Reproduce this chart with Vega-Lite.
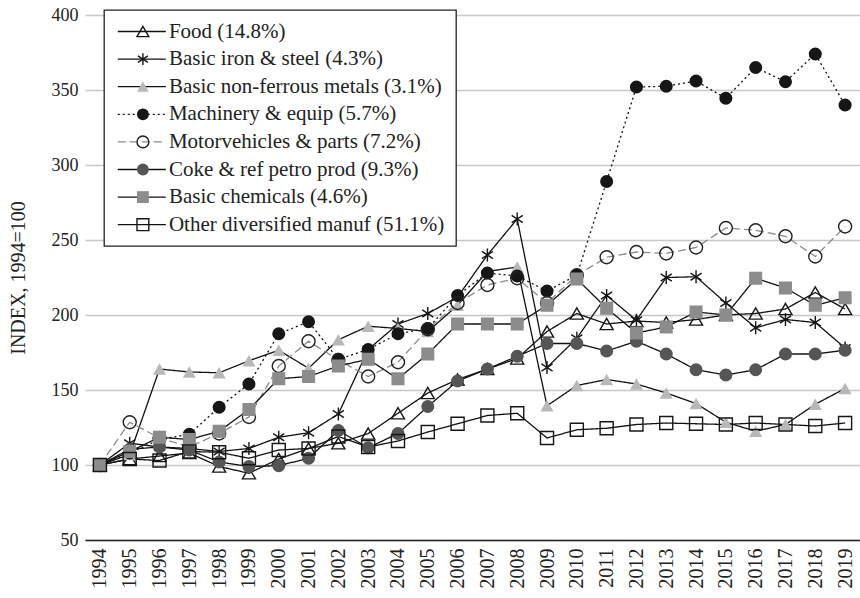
{
  "$schema": "https://vega.github.io/schema/vega-lite/v6.json",
  "width": 775,
  "height": 525,
  "autosize": "none",
  "padding": {"left": 85, "top": 15, "right": 0, "bottom": 58},
  "background": "white",
  "config": {"font": "Liberation Serif", "view": {"stroke": null}},
  "data": {"values": [
    {"series":"Food (14.8%)","year":"1994","value":100},{"series":"Food (14.8%)","year":"1995","value":104},{"series":"Food (14.8%)","year":"1996","value":106},{"series":"Food (14.8%)","year":"1997","value":108},{"series":"Food (14.8%)","year":"1998","value":99},{"series":"Food (14.8%)","year":"1999","value":94.5},{"series":"Food (14.8%)","year":"2000","value":104},{"series":"Food (14.8%)","year":"2001","value":111},{"series":"Food (14.8%)","year":"2002","value":114.5},{"series":"Food (14.8%)","year":"2003","value":121},{"series":"Food (14.8%)","year":"2004","value":134.5},{"series":"Food (14.8%)","year":"2005","value":148},{"series":"Food (14.8%)","year":"2006","value":157},{"series":"Food (14.8%)","year":"2007","value":164},{"series":"Food (14.8%)","year":"2008","value":171},{"series":"Food (14.8%)","year":"2009","value":189},{"series":"Food (14.8%)","year":"2010","value":201},{"series":"Food (14.8%)","year":"2011","value":194},{"series":"Food (14.8%)","year":"2012","value":196},{"series":"Food (14.8%)","year":"2013","value":195},{"series":"Food (14.8%)","year":"2014","value":197},{"series":"Food (14.8%)","year":"2015","value":200},{"series":"Food (14.8%)","year":"2016","value":201},{"series":"Food (14.8%)","year":"2017","value":204},{"series":"Food (14.8%)","year":"2018","value":215},{"series":"Food (14.8%)","year":"2019","value":204},
    {"series":"Basic iron & steel (4.3%)","year":"1994","value":100},{"series":"Basic iron & steel (4.3%)","year":"1995","value":114.5},{"series":"Basic iron & steel (4.3%)","year":"1996","value":112},{"series":"Basic iron & steel (4.3%)","year":"1997","value":111},{"series":"Basic iron & steel (4.3%)","year":"1998","value":109},{"series":"Basic iron & steel (4.3%)","year":"1999","value":111},{"series":"Basic iron & steel (4.3%)","year":"2000","value":118.5},{"series":"Basic iron & steel (4.3%)","year":"2001","value":121.5},{"series":"Basic iron & steel (4.3%)","year":"2002","value":134},{"series":"Basic iron & steel (4.3%)","year":"2003","value":177},{"series":"Basic iron & steel (4.3%)","year":"2004","value":194},{"series":"Basic iron & steel (4.3%)","year":"2005","value":201},{"series":"Basic iron & steel (4.3%)","year":"2006","value":212},{"series":"Basic iron & steel (4.3%)","year":"2007","value":240},{"series":"Basic iron & steel (4.3%)","year":"2008","value":264},{"series":"Basic iron & steel (4.3%)","year":"2009","value":165},{"series":"Basic iron & steel (4.3%)","year":"2010","value":184.5},{"series":"Basic iron & steel (4.3%)","year":"2011","value":213},{"series":"Basic iron & steel (4.3%)","year":"2012","value":196.5},{"series":"Basic iron & steel (4.3%)","year":"2013","value":225},{"series":"Basic iron & steel (4.3%)","year":"2014","value":225.5},{"series":"Basic iron & steel (4.3%)","year":"2015","value":208},{"series":"Basic iron & steel (4.3%)","year":"2016","value":191.5},{"series":"Basic iron & steel (4.3%)","year":"2017","value":197},{"series":"Basic iron & steel (4.3%)","year":"2018","value":195},{"series":"Basic iron & steel (4.3%)","year":"2019","value":178},
    {"series":"Basic non-ferrous metals (3.1%)","year":"1994","value":100},{"series":"Basic non-ferrous metals (3.1%)","year":"1995","value":107},{"series":"Basic non-ferrous metals (3.1%)","year":"1996","value":164},{"series":"Basic non-ferrous metals (3.1%)","year":"1997","value":162},{"series":"Basic non-ferrous metals (3.1%)","year":"1998","value":161.5},{"series":"Basic non-ferrous metals (3.1%)","year":"1999","value":169.5},{"series":"Basic non-ferrous metals (3.1%)","year":"2000","value":176.5},{"series":"Basic non-ferrous metals (3.1%)","year":"2001","value":164.5},{"series":"Basic non-ferrous metals (3.1%)","year":"2002","value":183.5},{"series":"Basic non-ferrous metals (3.1%)","year":"2003","value":192.5},{"series":"Basic non-ferrous metals (3.1%)","year":"2004","value":191},{"series":"Basic non-ferrous metals (3.1%)","year":"2005","value":189},{"series":"Basic non-ferrous metals (3.1%)","year":"2006","value":206.5},{"series":"Basic non-ferrous metals (3.1%)","year":"2007","value":229},{"series":"Basic non-ferrous metals (3.1%)","year":"2008","value":232},{"series":"Basic non-ferrous metals (3.1%)","year":"2009","value":139.5},{"series":"Basic non-ferrous metals (3.1%)","year":"2010","value":153},{"series":"Basic non-ferrous metals (3.1%)","year":"2011","value":157},{"series":"Basic non-ferrous metals (3.1%)","year":"2012","value":154},{"series":"Basic non-ferrous metals (3.1%)","year":"2013","value":148},{"series":"Basic non-ferrous metals (3.1%)","year":"2014","value":141},{"series":"Basic non-ferrous metals (3.1%)","year":"2015","value":128.5},{"series":"Basic non-ferrous metals (3.1%)","year":"2016","value":122.5},{"series":"Basic non-ferrous metals (3.1%)","year":"2017","value":127},{"series":"Basic non-ferrous metals (3.1%)","year":"2018","value":140.5},{"series":"Basic non-ferrous metals (3.1%)","year":"2019","value":151},
    {"series":"Machinery & equip (5.7%)","year":"1994","value":100},{"series":"Machinery & equip (5.7%)","year":"1995","value":108},{"series":"Machinery & equip (5.7%)","year":"1996","value":117},{"series":"Machinery & equip (5.7%)","year":"1997","value":120.5},{"series":"Machinery & equip (5.7%)","year":"1998","value":138.5},{"series":"Machinery & equip (5.7%)","year":"1999","value":154},{"series":"Machinery & equip (5.7%)","year":"2000","value":187.5},{"series":"Machinery & equip (5.7%)","year":"2001","value":195.5},{"series":"Machinery & equip (5.7%)","year":"2002","value":170.5},{"series":"Machinery & equip (5.7%)","year":"2003","value":177},{"series":"Machinery & equip (5.7%)","year":"2004","value":187.5},{"series":"Machinery & equip (5.7%)","year":"2005","value":191},{"series":"Machinery & equip (5.7%)","year":"2006","value":213},{"series":"Machinery & equip (5.7%)","year":"2007","value":228},{"series":"Machinery & equip (5.7%)","year":"2008","value":226},{"series":"Machinery & equip (5.7%)","year":"2009","value":216},{"series":"Machinery & equip (5.7%)","year":"2010","value":226.5},{"series":"Machinery & equip (5.7%)","year":"2011","value":289},{"series":"Machinery & equip (5.7%)","year":"2012","value":352},{"series":"Machinery & equip (5.7%)","year":"2013","value":352.5},{"series":"Machinery & equip (5.7%)","year":"2014","value":356},{"series":"Machinery & equip (5.7%)","year":"2015","value":344.5},{"series":"Machinery & equip (5.7%)","year":"2016","value":365},{"series":"Machinery & equip (5.7%)","year":"2017","value":355.5},{"series":"Machinery & equip (5.7%)","year":"2018","value":374},{"series":"Machinery & equip (5.7%)","year":"2019","value":340},
    {"series":"Motorvehicles & parts (7.2%)","year":"1994","value":100},{"series":"Motorvehicles & parts (7.2%)","year":"1995","value":128.5},{"series":"Motorvehicles & parts (7.2%)","year":"1996","value":118},{"series":"Motorvehicles & parts (7.2%)","year":"1997","value":112},{"series":"Motorvehicles & parts (7.2%)","year":"1998","value":121},{"series":"Motorvehicles & parts (7.2%)","year":"1999","value":132},{"series":"Motorvehicles & parts (7.2%)","year":"2000","value":166},{"series":"Motorvehicles & parts (7.2%)","year":"2001","value":182.5},{"series":"Motorvehicles & parts (7.2%)","year":"2002","value":170},{"series":"Motorvehicles & parts (7.2%)","year":"2003","value":159},{"series":"Motorvehicles & parts (7.2%)","year":"2004","value":168.5},{"series":"Motorvehicles & parts (7.2%)","year":"2005","value":190.5},{"series":"Motorvehicles & parts (7.2%)","year":"2006","value":208},{"series":"Motorvehicles & parts (7.2%)","year":"2007","value":220},{"series":"Motorvehicles & parts (7.2%)","year":"2008","value":224.5},{"series":"Motorvehicles & parts (7.2%)","year":"2009","value":208},{"series":"Motorvehicles & parts (7.2%)","year":"2010","value":226.5},{"series":"Motorvehicles & parts (7.2%)","year":"2011","value":238.5},{"series":"Motorvehicles & parts (7.2%)","year":"2012","value":242},{"series":"Motorvehicles & parts (7.2%)","year":"2013","value":241},{"series":"Motorvehicles & parts (7.2%)","year":"2014","value":245},{"series":"Motorvehicles & parts (7.2%)","year":"2015","value":258},{"series":"Motorvehicles & parts (7.2%)","year":"2016","value":256.5},{"series":"Motorvehicles & parts (7.2%)","year":"2017","value":252.5},{"series":"Motorvehicles & parts (7.2%)","year":"2018","value":239},{"series":"Motorvehicles & parts (7.2%)","year":"2019","value":259},
    {"series":"Coke & ref petro prod (9.3%)","year":"1994","value":100},{"series":"Coke & ref petro prod (9.3%)","year":"1995","value":110.5},{"series":"Coke & ref petro prod (9.3%)","year":"1996","value":112},{"series":"Coke & ref petro prod (9.3%)","year":"1997","value":110},{"series":"Coke & ref petro prod (9.3%)","year":"1998","value":102},{"series":"Coke & ref petro prod (9.3%)","year":"1999","value":99},{"series":"Coke & ref petro prod (9.3%)","year":"2000","value":99.5},{"series":"Coke & ref petro prod (9.3%)","year":"2001","value":104.5},{"series":"Coke & ref petro prod (9.3%)","year":"2002","value":123},{"series":"Coke & ref petro prod (9.3%)","year":"2003","value":111.5},{"series":"Coke & ref petro prod (9.3%)","year":"2004","value":121},{"series":"Coke & ref petro prod (9.3%)","year":"2005","value":139},{"series":"Coke & ref petro prod (9.3%)","year":"2006","value":156},{"series":"Coke & ref petro prod (9.3%)","year":"2007","value":164},{"series":"Coke & ref petro prod (9.3%)","year":"2008","value":172.5},{"series":"Coke & ref petro prod (9.3%)","year":"2009","value":181},{"series":"Coke & ref petro prod (9.3%)","year":"2010","value":181},{"series":"Coke & ref petro prod (9.3%)","year":"2011","value":176},{"series":"Coke & ref petro prod (9.3%)","year":"2012","value":182.5},{"series":"Coke & ref petro prod (9.3%)","year":"2013","value":174},{"series":"Coke & ref petro prod (9.3%)","year":"2014","value":163.5},{"series":"Coke & ref petro prod (9.3%)","year":"2015","value":160},{"series":"Coke & ref petro prod (9.3%)","year":"2016","value":163.5},{"series":"Coke & ref petro prod (9.3%)","year":"2017","value":174},{"series":"Coke & ref petro prod (9.3%)","year":"2018","value":174},{"series":"Coke & ref petro prod (9.3%)","year":"2019","value":176.5},
    {"series":"Basic chemicals (4.6%)","year":"1994","value":100},{"series":"Basic chemicals (4.6%)","year":"1995","value":109},{"series":"Basic chemicals (4.6%)","year":"1996","value":118.5},{"series":"Basic chemicals (4.6%)","year":"1997","value":117},{"series":"Basic chemicals (4.6%)","year":"1998","value":122.5},{"series":"Basic chemicals (4.6%)","year":"1999","value":137},{"series":"Basic chemicals (4.6%)","year":"2000","value":157.5},{"series":"Basic chemicals (4.6%)","year":"2001","value":159},{"series":"Basic chemicals (4.6%)","year":"2002","value":166},{"series":"Basic chemicals (4.6%)","year":"2003","value":170.5},{"series":"Basic chemicals (4.6%)","year":"2004","value":157.5},{"series":"Basic chemicals (4.6%)","year":"2005","value":174},{"series":"Basic chemicals (4.6%)","year":"2006","value":194},{"series":"Basic chemicals (4.6%)","year":"2007","value":194},{"series":"Basic chemicals (4.6%)","year":"2008","value":194},{"series":"Basic chemicals (4.6%)","year":"2009","value":206.5},{"series":"Basic chemicals (4.6%)","year":"2010","value":224},{"series":"Basic chemicals (4.6%)","year":"2011","value":204.5},{"series":"Basic chemicals (4.6%)","year":"2012","value":188},{"series":"Basic chemicals (4.6%)","year":"2013","value":192},{"series":"Basic chemicals (4.6%)","year":"2014","value":202},{"series":"Basic chemicals (4.6%)","year":"2015","value":200},{"series":"Basic chemicals (4.6%)","year":"2016","value":224.5},{"series":"Basic chemicals (4.6%)","year":"2017","value":218},{"series":"Basic chemicals (4.6%)","year":"2018","value":206.5},{"series":"Basic chemicals (4.6%)","year":"2019","value":211.5},
    {"series":"Other diversified manuf (51.1%)","year":"1994","value":100},{"series":"Other diversified manuf (51.1%)","year":"1995","value":104},{"series":"Other diversified manuf (51.1%)","year":"1996","value":103},{"series":"Other diversified manuf (51.1%)","year":"1997","value":109},{"series":"Other diversified manuf (51.1%)","year":"1998","value":108.5},{"series":"Other diversified manuf (51.1%)","year":"1999","value":104.5},{"series":"Other diversified manuf (51.1%)","year":"2000","value":110},{"series":"Other diversified manuf (51.1%)","year":"2001","value":111},{"series":"Other diversified manuf (51.1%)","year":"2002","value":119},{"series":"Other diversified manuf (51.1%)","year":"2003","value":112},{"series":"Other diversified manuf (51.1%)","year":"2004","value":116},{"series":"Other diversified manuf (51.1%)","year":"2005","value":122},{"series":"Other diversified manuf (51.1%)","year":"2006","value":127.5},{"series":"Other diversified manuf (51.1%)","year":"2007","value":133},{"series":"Other diversified manuf (51.1%)","year":"2008","value":134.5},{"series":"Other diversified manuf (51.1%)","year":"2009","value":118},{"series":"Other diversified manuf (51.1%)","year":"2010","value":123.5},{"series":"Other diversified manuf (51.1%)","year":"2011","value":124.5},{"series":"Other diversified manuf (51.1%)","year":"2012","value":127},{"series":"Other diversified manuf (51.1%)","year":"2013","value":128},{"series":"Other diversified manuf (51.1%)","year":"2014","value":127.5},{"series":"Other diversified manuf (51.1%)","year":"2015","value":127},{"series":"Other diversified manuf (51.1%)","year":"2016","value":128},{"series":"Other diversified manuf (51.1%)","year":"2017","value":127},{"series":"Other diversified manuf (51.1%)","year":"2018","value":126},{"series":"Other diversified manuf (51.1%)","year":"2019","value":128}
  ]},
  "encoding": {
    "x": {"field": "year", "type": "ordinal", "scale": {"type": "point", "padding": 0.5},
      "axis": {"title": null, "labelAngle": 270, "labelFont": "Liberation Serif", "labelFontSize": 20, "labelColor": "#222", "labelPadding": 8, "ticks": false, "domainColor": "#222", "domainWidth": 1.5, "grid": false}},
    "y": {"field": "value", "type": "quantitative", "scale": {"domain": [50, 400], "nice": false, "zero": false},
      "axis": {"values": [50, 100, 150, 200, 250, 300, 350, 400], "title": "INDEX, 1994=100", "titleFont": "Liberation Serif", "titleFontSize": 20, "titleFontWeight": "normal", "titleColor": "#222", "titlePadding": 23, "labelFont": "Liberation Serif", "labelFontSize": 18, "labelColor": "#222", "labelPadding": 7, "ticks": false, "domain": false, "grid": true, "gridColor": "#c8c8c8", "gridWidth": 1.3}}
  },
  "layer": [
    {
      "mark": {"type": "line", "strokeWidth": 1.3},
      "encoding": {
        "color": {"field": "series", "type": "nominal", "sort": null,
          "scale": {"range": ["#111", "#111", "#111", "#111", "#8a8a8a", "#111", "#111", "#111"]},
          "legend": {"orient": "none", "legendX": 19, "legendY": -5, "title": null, "zindex": 1,
            "symbolType": "M-3.43,0H3.43", "symbolSize": 196, "symbolStrokeWidth": 1.3, "symbolOffset": 16.3,
            "labelFont": "Liberation Serif", "labelFontSize": 21, "labelColor": "#222", "labelOffset": 16.6, "labelLimit": 500,
            "rowPadding": 5.6, "padding": 11, "strokeColor": "#222", "fillColor": "white",
            "encode": {"legend": {"update": {"strokeWidth": {"value": 1.3}}}}}},
        "strokeDash": {"field": "series", "type": "nominal", "sort": null,
          "scale": {"range": [[1, 0], [1, 0], [1, 0], [2, 3], [8, 4], [1, 0], [1, 0], [1, 0]]}}
      }
    },
    {
      "mark": {"type": "point", "filled": true, "opacity": 1, "strokeWidth": 1.4, "size": 170},
      "encoding": {
        "shape": {"field": "series", "type": "nominal",
          "scale": {"domain": ["Food (14.8%)", "Basic iron & steel (4.3%)", "Basic non-ferrous metals (3.1%)", "Machinery & equip (5.7%)", "Motorvehicles & parts (7.2%)", "Coke & ref petro prod (9.3%)", "Basic chemicals (4.6%)", "Other diversified manuf (51.1%)"],
            "range": ["triangle-up", "M0,-1V1M-0.85,-0.55L0.85,0.55M-0.85,0.55L0.85,-0.55", "triangle-up", "circle", "circle", "circle", "square", "square"]},
          "legend": {"orient": "none", "legendX": 19, "legendY": -5, "title": null, "zindex": 2,
            "symbolSize": 140, "symbolStrokeWidth": 1.4, "symbolOffset": 17.4,
            "labelFont": "Liberation Serif", "labelFontSize": 21, "labelColor": "transparent", "labelExpr": "' '", "labelOffset": 7, "labelLimit": 500,
            "rowPadding": 5.6, "padding": 11}},
        "fill": {"field": "series", "type": "nominal",
          "scale": {"domain": ["Food (14.8%)", "Basic iron & steel (4.3%)", "Basic non-ferrous metals (3.1%)", "Machinery & equip (5.7%)", "Motorvehicles & parts (7.2%)", "Coke & ref petro prod (9.3%)", "Basic chemicals (4.6%)", "Other diversified manuf (51.1%)"],
            "range": ["transparent", "transparent", "#b8b8b8", "#161616", "transparent", "#555555", "#8c8c8c", "transparent"]}},
        "stroke": {"field": "series", "type": "nominal",
          "scale": {"domain": ["Food (14.8%)", "Basic iron & steel (4.3%)", "Basic non-ferrous metals (3.1%)", "Machinery & equip (5.7%)", "Motorvehicles & parts (7.2%)", "Coke & ref petro prod (9.3%)", "Basic chemicals (4.6%)", "Other diversified manuf (51.1%)"],
            "range": ["#161616", "#161616", "transparent", "transparent", "#222222", "transparent", "transparent", "#161616"]}}
      }
    }
  ]
}
